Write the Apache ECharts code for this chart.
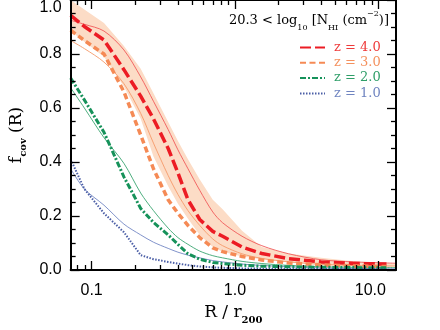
<!DOCTYPE html>
<html><head><meta charset="utf-8">
<script src="https://cdn.jsdelivr.net/npm/echarts@6/dist/echarts.min.js"></script>
<style>html,body{margin:0;padding:0;background:#fff}#c{width:440px;height:330px}</style>
</head><body><div id="c"></div>
<script>
// R / r200 sample positions
const rVals = [0.0714, 0.089, 0.122, 0.168, 0.22, 0.27, 0.342, 0.40, 0.47, 0.568, 0.70, 0.82, 1.12, 1.54, 2.37, 3.99, 6.71, 11.4, 13.28];
// simulation curves (thick)
const z4 = [0.943, 0.902, 0.852, 0.742, 0.644, 0.56, 0.45, 0.36, 0.26, 0.187, 0.143, 0.125, 0.085, 0.061, 0.042, 0.030, 0.024, 0.022, null];
const z3 = [0.888, 0.85, 0.80, 0.66, 0.50, 0.375, 0.26, 0.21, 0.165, 0.12, 0.082, 0.068, 0.05, 0.037, 0.026, 0.019, 0.015, 0.013, null];
const z2 = [0.711, 0.63, 0.51, 0.345, 0.228, 0.176, 0.13, 0.095, 0.06, 0.04, 0.028, 0.024, 0.018, 0.014, 0.012, 0.010, 0.009, 0.008, null];
const z1 = [0.41, 0.30, 0.21, 0.14, 0.055, 0.04, 0.03, 0.024, 0.018, 0.013, 0.01, 0.008, 0.006, 0.005, 0.004, 0.004, 0.003, 0.003, null];
// thin curves
const z4thin = [0.925, 0.91, 0.885, 0.815, 0.715, 0.625, 0.52, 0.445, 0.375, 0.295, 0.215, 0.175, 0.125, 0.09, 0.06, 0.038, 0.03, 0.026, 0.025];
const z3thin = [0.85, 0.82, 0.77, 0.69, 0.58, 0.47, 0.35, 0.28, 0.22, 0.165, 0.115, 0.09, 0.06, 0.043, 0.03, 0.021, 0.017, 0.015, 0.015];
const z2thin = [0.675, 0.60, 0.49, 0.395, 0.285, 0.22, 0.155, 0.12, 0.095, 0.07, 0.053, 0.045, 0.032, 0.024, 0.017, 0.012, 0.01, 0.009, 0.009];
const z1thin = [0.375, 0.30, 0.24, 0.17, 0.13, 0.103, 0.08, 0.066, 0.055, 0.045, 0.035, 0.03, 0.022, 0.017, 0.012, 0.008, 0.006, 0.005, 0.005];
// z=4 scatter band
const bandUpper = [1.0, 0.965, 0.915, 0.83, 0.745, 0.655, 0.548, 0.478, 0.41, 0.335, 0.26, 0.225, 0.145, 0.085, 0.061, 0.045, 0.032, 0.025, 0.024];
const bandLower = [0.885, 0.845, 0.79, 0.68, 0.56, 0.42, 0.31, 0.245, 0.19, 0.13, 0.085, 0.068, 0.05, 0.04, 0.03, 0.018, 0.014, 0.012, 0.012];
// legend names
const seriesNames = ['z = 4.0', 'z = 3.0', 'z = 2.0', 'z = 1.0'];
// axis ticks
const xMajorTicks = [0.1, 1, 10];
const xTickLabels = ['0.1', '1.0', '10.0'];
const xMinorTicks = [0.08, 0.09, 0.2, 0.3, 0.4, 0.5, 0.6, 0.7, 0.8, 0.9, 2, 3, 4, 5, 6, 7, 8, 9];
const xMin = 0.0714, xMax = 13.28;

const lg = v => Math.log10(v);
const pts = arr => rVals.map((r, i) => [lg(r), arr[i]]);

const serif = 'DejaVu Serif';
const sans = 'Liberation Sans';
const black = '#000';

function xAxisDef(pos, major, withLabel) {
  return {
    type: 'value', position: pos, min: lg(xMin), max: lg(xMax), z: 10,
    splitLine: { show: false },
    axisLine: { show: major, onZero: false, lineStyle: { color: black, width: 2 } },
    axisTick: { show: true, inside: true, length: major ? 9 : 5,
      customValues: (major ? xMajorTicks : xMinorTicks).map(lg),
      lineStyle: { color: black, width: 1.3 } },
    axisLabel: withLabel ? {
      show: true, customValues: xMajorTicks.map(lg), margin: 13,
      fontFamily: sans, fontSize: 16, color: black,
      formatter: v => {
        const i = xMajorTicks.findIndex(t => Math.abs(lg(t) - v) < 1e-6);
        if (i < 0) return '';
        return i === xMajorTicks.length - 1 ? '{r|' + xTickLabels[i] + '}' : xTickLabels[i];
      },
      rich: { r: { fontFamily: sans, fontSize: 16, color: black, padding: [0, 16, 0, 0] } }
    } : { show: false }
  };
}
function yAxisDef(pos, withLabel) {
  return {
    type: 'value', position: pos, min: 0, max: 1, interval: 0.2, z: 10,
    splitLine: { show: false },
    axisLine: { show: true, onZero: false, lineStyle: { color: black, width: 2 } },
    axisTick: { show: true, inside: true, length: 9, lineStyle: { color: black, width: 1.3 } },
    minorTick: { show: true, splitNumber: 4, length: 5, lineStyle: { color: black, width: 1.3 } },
    axisLabel: withLabel ? { show: true, margin: 9, fontFamily: sans, fontSize: 16, color: black,
      formatter: v => v.toFixed(1), verticalAlignMaxLabel: 'top' } : { show: false }
  };
}

const nameRich = {
  a: { fontFamily: serif, fontSize: 17, color: black, lineHeight: 24, fontWeight: 'normal' },
  s: { fontFamily: serif, fontSize: 10, fontWeight: 'bold', color: black, lineHeight: 12, verticalAlign: 'bottom' }
};
const xa0 = xAxisDef('bottom', true, true);
xa0.name = '{a|R / r}{s|200}';
xa0.nameLocation = 'middle';
xa0.nameGap = 31;
xa0.nameTextStyle = { rich: nameRich };
const ya0 = yAxisDef('left', true);
ya0.name = '{a|f}{s|cov}{a| (R)}';
ya0.nameLocation = 'middle';
ya0.nameRotate = 90;
ya0.nameGap = 36;
ya0.nameTextStyle = { rich: nameRich };

function thick(name, data, color, width, dash) {
  return { name, type: 'line', data: pts(data), symbol: 'none', connectNulls: false, z: 5,
    lineStyle: { color, width, type: dash }, itemStyle: { color }, silent: true };
}
function thin(name, data, color) {
  return { name, type: 'line', data: pts(data), symbol: 'none', z: 4, smooth: 0.3,
    lineStyle: { color, width: 0.9 }, itemStyle: { color }, silent: true };
}

const colors = ['#EC1C24', '#F58A55', '#16925A', '#4B5EA6'];
const textColors = ['#EE3A3A', '#F4915E', '#2E9E68', '#6F84C0'];

const bandSeries = {
  name: 'band', type: 'custom', z: 1, silent: true,
  data: [[lg(rVals[0]), bandUpper[0]]],
  renderItem: (params, api) => {
    const up = rVals.map((r, i) => api.coord([lg(r), bandUpper[i]]));
    const lo = rVals.map((r, i) => api.coord([lg(r), bandLower[i]])).reverse();
    return { type: 'polygon', shape: { points: up.concat(lo) }, style: { fill: '#FCDCC6' } };
  }
};

const option = {
  animation: false,
  grid: { left: 66, right: 44, top: 0, bottom: 57 },
  title: {
    right: 46, top: 5,
    text: '{a|20.3 < log}{s|10}{a| [N}{s|HI}{a| (cm}{p|−2}{a|)]}',
    textStyle: { fontWeight: 'normal', rich: {
      a: { fontFamily: serif, fontSize: 13, color: black, lineHeight: 22, fontWeight: 'normal' },
      s: { fontFamily: serif, fontSize: 8, color: black, lineHeight: 10, verticalAlign: 'bottom', fontWeight: 'normal' },
      p: { fontFamily: serif, fontSize: 8, color: black, lineHeight: 10, verticalAlign: 'top', fontWeight: 'normal' } } }
  },
  legend: {
    left: 294, top: 36, orient: 'vertical', itemWidth: 25, itemHeight: 14, itemGap: 2.3,
    selectedMode: false,
    itemStyle: { opacity: 0 },
    textStyle: { fontFamily: serif, fontSize: 13, padding: [0, 0, 0, 4] },
    data: seriesNames.map((n, i) => ({ name: n, textStyle: { color: textColors[i] } }))
  },
  xAxis: [xa0, xAxisDef('bottom', false, false), xAxisDef('top', true, false), xAxisDef('top', false, false)],
  yAxis: [ya0, yAxisDef('right', false)],
  series: [
    bandSeries,
    thin('fit4', z4thin, '#F05A5A'),
    thin('fit3', z3thin, '#F59A6A'),
    thin('fit2', z2thin, '#3AA570'),
    thin('fit1', z1thin, '#7387C4'),
    thick(seriesNames[0], z4, colors[0], 3.5, [11, 4]),
    thick(seriesNames[1], z3, colors[1], 3.5, [6, 3.5]),
    thick(seriesNames[2], z2, colors[2], 3, [6, 2, 2, 2]),
    thick(seriesNames[3], z1, colors[3], 2, [1.5, 1.5])
  ]
};
const chart = echarts.init(document.getElementById('c'), null, { renderer: 'canvas' });
chart.setOption(option);
</script>
</body></html>
